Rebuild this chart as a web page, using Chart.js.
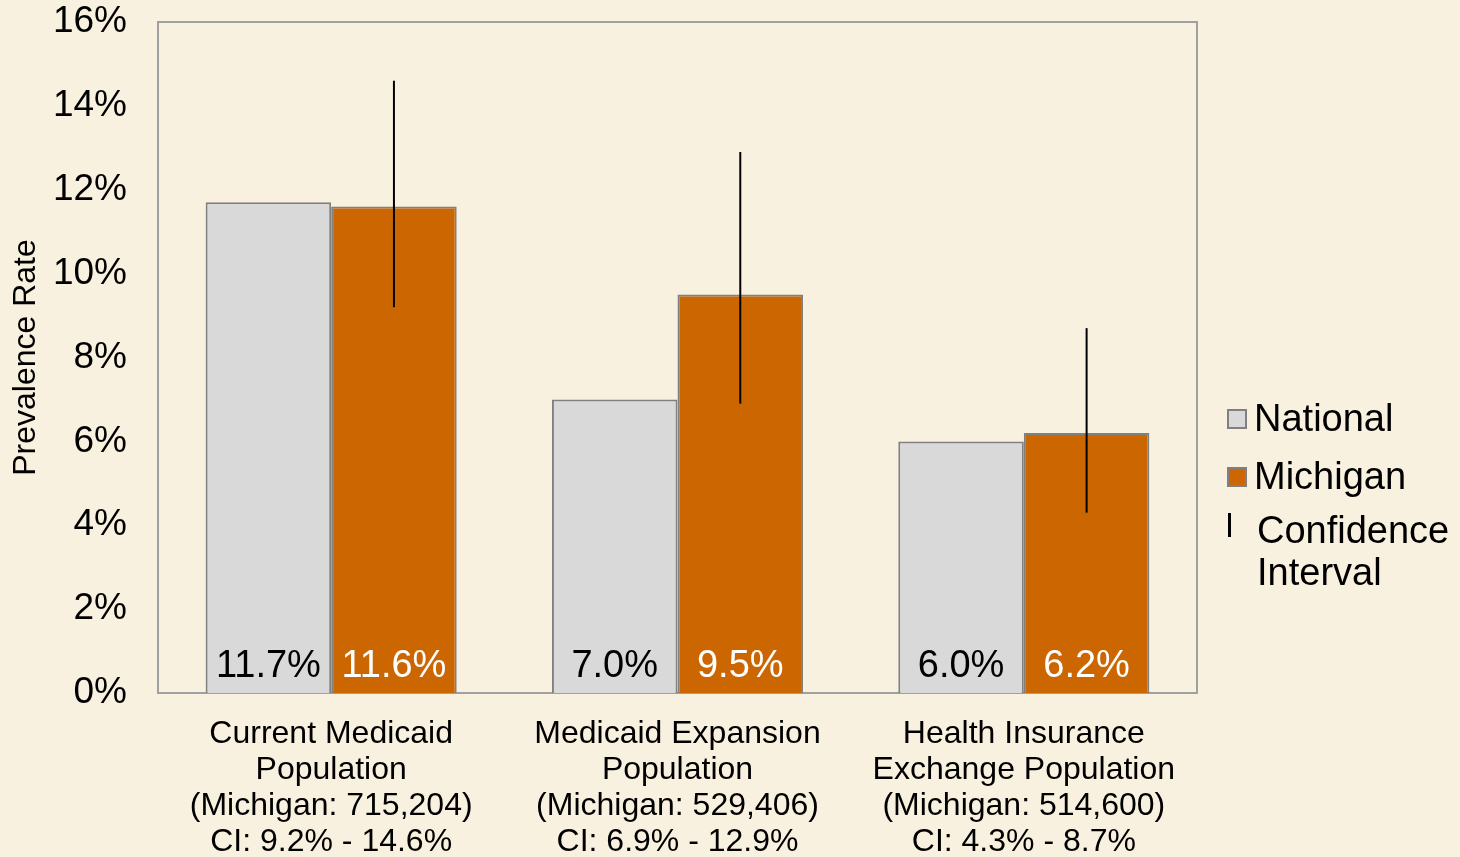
<!DOCTYPE html>
<html>
<head>
  <title>Prevalence Rate</title>
  <script src="https://cdn.jsdelivr.net/npm/chart.js"></script>
  <style>
    body {
      margin: 0;
      background: #f9f1df;
      font-family: 'Liberation Sans', Arial, sans-serif;
    }
    #wrap {
      position: relative;
      width: 1460px;
      height: 857px;
      overflow: hidden;
    }
    .legend {
      position: absolute;
      font-size: 38px;
      color: #000;
      line-height: 42px;
      white-space: nowrap;
    }
    .box {
      position: absolute;
      width: 16px;
      height: 16px;
      border: 2px solid #808080;
    }
    .ci {
      position: absolute;
      width: 3px;
      height: 24px;
      background: #000;
    }
  </style>
</head>
<body>
<div id="wrap">
  <canvas id="chart" width="1460" height="857"></canvas>

  <div class="box" style="left:1227px; top:409px; background:#d9d9d9;"></div>
  <div class="legend" style="left:1254px; top:397px;">National</div>
  <div class="box" style="left:1227px; top:467px; background:#cc6600;"></div>
  <div class="legend" style="left:1254px; top:455px;">Michigan</div>
  <div class="ci" style="left:1228px; top:513px;"></div>
  <div class="legend" style="left:1257px; top:509px;">Confidence<br>Interval</div>
</div>

<script>
  const categories = [
    ['Current Medicaid', 'Population', '(Michigan: 715,204)', 'CI: 9.2% - 14.6%'],
    ['Medicaid Expansion', 'Population', '(Michigan: 529,406)', 'CI: 6.9% - 12.9%'],
    ['Health Insurance', 'Exchange Population', '(Michigan: 514,600)', 'CI: 4.3% - 8.7%']
  ];
  const national = [11.7, 7.0, 6.0];
  const michigan = [11.6, 9.5, 6.2];
  const ciLow = [9.2, 6.9, 4.3];
  const ciHigh = [14.6, 12.9, 8.7];

  const FONT = "'Liberation Sans', Arial, sans-serif";

  // plot frame (top + right sides too)
  const framePlugin = {
    id: 'frame',
    beforeDatasetsDraw: (chart) => {
      const { ctx, chartArea: a } = chart;
      ctx.save();
      ctx.strokeStyle = '#a0a0a0';
      ctx.lineWidth = 2;
      ctx.strokeRect(a.left, a.top, a.right - a.left, a.bottom - a.top);
      ctx.restore();
    }
  };

  // value labels at bottom of bars + confidence interval lines
  const labelPlugin = {
    id: 'barLabels',
    afterDatasetsDraw: (chart) => {
      const ctx = chart.ctx;
      const y = chart.scales.y;
      const base = y.getPixelForValue(0);
      ctx.save();
      ctx.font = '38px ' + FONT;
      ctx.textAlign = 'center';
      ctx.textBaseline = 'alphabetic';
      chart.data.datasets.forEach((ds, i) => {
        chart.getDatasetMeta(i).data.forEach((bar, j) => {
          ctx.fillStyle = i === 0 ? '#000' : '#fff';
          ctx.fillText(ds.data[j].toFixed(1) + '%', bar.x, base - 16);
        });
      });

      // CI lines on Michigan bars
      ctx.strokeStyle = '#000';
      ctx.lineWidth = 2;
      chart.getDatasetMeta(1).data.forEach((bar, j) => {
        ctx.beginPath();
        ctx.moveTo(bar.x, y.getPixelForValue(ciHigh[j]));
        ctx.lineTo(bar.x, y.getPixelForValue(ciLow[j]));
        ctx.stroke();
      });
      ctx.restore();
    }
  };

  new Chart(document.getElementById('chart'), {
    type: 'bar',
    data: {
      labels: categories,
      datasets: [{
        label: 'National',
        data: national,
        backgroundColor: '#d9d9d9',
        borderColor: '#808080',
        borderWidth: 2
      }, {
        label: 'Michigan',
        data: michigan,
        backgroundColor: '#cc6600',
        borderColor: '#808080',
        borderWidth: 2
      }]
    },
    options: {
      responsive: false,
      animation: false,
      devicePixelRatio: 1,
      layout: { padding: { top: 22, right: 263, left: 0, bottom: 0 } },
      datasets: {
        bar: { barPercentage: 1, categoryPercentage: 0.725 }
      },
      plugins: {
        legend: { display: false },
        tooltip: { enabled: false }
      },
      scales: {
        x: {
          grid: { display: false, drawTicks: false },
          border: { display: false },
          ticks: {
            color: '#000',
            padding: 23,
            maxRotation: 0,
            autoSkip: false,
            font: { family: FONT, size: 32, lineHeight: 1.125 }
          },
          afterFit: (s) => { s.height = 164; s.paddingLeft = 0; s.paddingRight = 0; }
        },
        y: {
          min: 0,
          max: 16,
          grid: { display: false, drawTicks: false },
          border: { display: false },
          ticks: {
            stepSize: 2,
            color: '#000',
            padding: 31,
            font: { family: FONT, size: 37 },
            callback: (v) => v + '%'
          },
          title: {
            display: true,
            text: 'Prevalence Rate',
            color: '#000',
            padding: { top: 7, bottom: 0 },
            font: { family: FONT, size: 32 }
          },
          afterFit: (s) => { s.width = 158; s.paddingTop = 0; s.paddingBottom = 0; }
        }
      }
    },
    plugins: [framePlugin, labelPlugin]
  });
</script>
</body>
</html>
